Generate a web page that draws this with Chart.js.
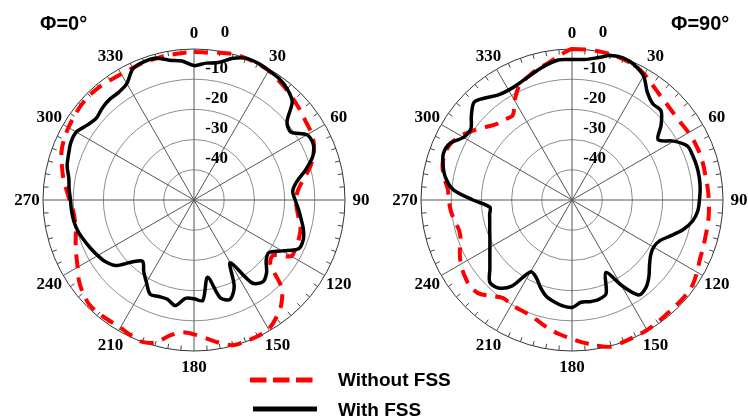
<!DOCTYPE html>
<html>
<head>
<meta charset="utf-8">
<script src="https://cdn.jsdelivr.net/npm/chart.js@4.4.0/dist/chart.umd.min.js"></script>
<style>
  html, body { margin: 0; padding: 0; background: #fff; }
  #wrap { position: relative; width: 748px; height: 416px; }
  #wrap canvas { position: absolute; left: 0; top: 0; }
</style>
</head>
<body>
<div id="wrap">
  <canvas id="phi0" width="748" height="416"></canvas>
  <canvas id="phi90" width="748" height="416"></canvas>
</div>
<script>
// theta in degrees, 5 deg step
const ANGLES = [
  0, 5, 10, 15, 20, 25, 30, 35, 40, 45, 50, 55,
  60, 65, 70, 75, 80, 85, 90, 95, 100, 105, 110, 115,
  120, 125, 130, 135, 140, 145, 150, 155, 160, 165, 170, 175,
  180, 185, 190, 195, 200, 205, 210, 215, 220, 225, 230, 235,
  240, 245, 250, 255, 260, 265, 270, 275, 280, 285, 290, 295,
  300, 305, 310, 315, 320, 325, 330, 335, 340, 345, 350, 355
];
const RADIAL_LABELS = [0, -10, -20, -30, -40];

// gain in dB, phi = 0
const PHI0_WITHOUT = [
  -1, -1, -0.5, 0, 0, -0.2,
  -0.5, -1.5, -2.3, -3.2, -4, -4.8,
  -5.2, -6.2, -8, -10.5, -13.5, -15.5,
  -16.3, -15.8, -14.8, -13.5, -13, -12.8,
  -12.8, -18, -17, -9, -5, -2.5,
  -0.6, -0.2, -0.2, -0.2, -2, -4,
  -5.5, -6, -4.5, -1.2, 0, -0.5,
  -1.2, -1.2, -1, -1, -2, -3.5,
  -5.5, -7, -8.3, -9.5, -10, -9.8,
  -8.8, -7.5, -6, -4.7, -3.3, -2.5,
  -2, -1.6, -1.2, -1, -1.2, -1.6,
  -1.8, -1.8, -1.5, -1.5, -1.3, -1.2
];
const PHI0_WITH = [
  -5.5, -4.5, -3.8, -1.5, 0, 0,
  -0.5, -0.9, -2, -4, -9.8, -10.8,
  -6.8, -6.4, -8.2, -11.8, -15.5, -17.2,
  -16.5, -15.3, -14, -12.5, -11.5, -11.8,
  -16.3, -19.7, -18.8, -16, -14.6, -16.5,
  -26, -18.5, -15, -16.5, -24, -16.6,
  -17.3, -17.3, -14.5, -16, -16, -15.6,
  -18.5, -21, -23.5, -21, -16.2, -14.3,
  -13.2, -12.2, -11.2, -10.2, -9.6, -9.3,
  -9.1, -8.5, -7.9, -6.5, -5.8, -5,
  -5, -6.8, -7.8, -7, -6.5, -6.5,
  -5.5, -2.1, -1.3, -1.4, -3, -3.8
];

// gain in dB, phi = 90
const PHI90_WITHOUT = [
  0, 0, 0, -0.1, -0.4, -0.8,
  -2, -3.5, -4.7, -5.4, -5.8, -5.8,
  -5.4, -5.1, -5, -5, -5.1, -4.9,
  -4.7, -4.5, -4.3, -4.2, -3.8, -3.3,
  -2.2, -1.2, -0.9, -0.9, -0.9, -0.6,
  -0.3, -0.2, 0, 0.3, -1, -2.5,
  -4, -5.3, -6.6, -8.2, -9.4, -9.8,
  -10, -10.3, -8.5, -6.3, -5.8, -6.5,
  -7.5, -9, -10.8, -11.3, -10.5, -9.7,
  -9.2, -8.7, -7, -5.6, -5.2, -5.7,
  -7.5, -10, -12.5, -14.5, -15.2, -15.8,
  -12, -8.5, -6.8, -5.2, -4, -2
];
const PHI90_WITH = [
  -3.5, -3.3, -2.2, -0.5, 0, -0.8,
  -2.6, -6.5, -8.4, -8.3, -11.5, -15.2,
  -11, -7.8, -7.4, -7.2, -7.2, -7.4,
  -7.8, -8.2, -9.5, -12, -15.3, -18,
  -18.8, -18.2, -16.5, -14, -12, -11.6,
  -17.5, -23.5, -17, -15.9, -15.8, -16,
  -14.4, -14.8, -15.8, -17, -19.3, -21.8,
  -22.5, -15.2, -12, -11.5, -14.5, -16.8,
  -18.6, -20, -21, -21.8, -22.3, -22.7,
  -17.2, -10.5, -7.5, -5.8, -4.7, -5.5,
  -8.5, -9.1, -6.5, -4.2, -5.8, -7.5,
  -8, -7.7, -6.8, -5.6, -4.3, -3.4
];

const SERIF = 'bold 17px "Liberation Serif", "Times New Roman", serif';
const SANS = '"Liberation Sans", Arial, sans-serif';

const polarDecor = {
  id: 'polarDecor',
  beforeDatasetsDraw(chart, args, opts) {
    const scale = chart.scales.r;
    const ctx = chart.ctx;
    const R = scale.drawingArea;
    ctx.save();

    // small ticks every 5 deg on the outer ring
    ctx.strokeStyle = '#444';
    ctx.lineWidth = 1;
    ANGLES.forEach((a, i) => {
      if (a % 30 === 0) return;
      const p1 = scale.getPointPosition(i, R);
      const p2 = scale.getPointPosition(i, R - 5);
      ctx.beginPath();
      ctx.moveTo(p1.x, p1.y);
      ctx.lineTo(p2.x, p2.y);
      ctx.stroke();
    });

    // angle labels
    ctx.fillStyle = '#000';
    ctx.font = SERIF;
    ctx.textAlign = 'center';
    ctx.textBaseline = 'middle';
    ANGLES.forEach((a, i) => {
      if (a % 30 !== 0) return;
      const p = scale.getPointPosition(i, R + 16);
      ctx.fillText(String(a), p.x, p.y + 1);
    });

    // dB labels
    RADIAL_LABELS.forEach((v) => {
      const d = scale.getDistanceFromCenterForValue(v);
      if (v === 0) {
        ctx.textAlign = 'center';
        ctx.fillText('0', scale.xCenter + 31, scale.yCenter - R - 16);
      } else {
        ctx.textAlign = 'right';
        ctx.fillText(String(v), scale.xCenter + 34, scale.yCenter - d - 11);
      }
    });

    ctx.font = 'bold 20px ' + SANS;
    ctx.textAlign = 'left';
    ctx.fillText(opts.title, opts.titleX, 24);
    ctx.restore();
  },
  afterDraw(chart, args, opts) {
    if (!opts.legend) return;
    const ctx = chart.ctx;
    ctx.save();
    ctx.lineWidth = 5;
    ctx.strokeStyle = '#ff0000';
    ctx.setLineDash([16.5, 6.5]);
    ctx.beginPath();
    ctx.moveTo(250, 380);
    ctx.lineTo(313, 380);
    ctx.stroke();
    ctx.setLineDash([]);
    ctx.strokeStyle = '#000';
    ctx.beginPath();
    ctx.moveTo(253, 409);
    ctx.lineTo(317, 409);
    ctx.stroke();
    ctx.fillStyle = '#000';
    ctx.font = 'bold 19px ' + SANS;
    ctx.textAlign = 'left';
    ctx.textBaseline = 'alphabetic';
    ctx.fillText('Without FSS', 338, 386);
    ctx.fillText('With FSS', 338, 416);
    ctx.restore();
  }
};

const makePolar = (id, withData, withoutData, padding, decor) => {
  return new Chart(document.getElementById(id), {
    type: 'radar',
    data: {
      labels: ANGLES,
      datasets: [
        {
          label: 'With FSS',
          data: withData,
          borderColor: '#000',
          borderWidth: 3.5,
          fill: false,
        },
        {
          label: 'Without FSS',
          data: withoutData,
          borderColor: '#ff0000',
          borderWidth: 4,
          borderDash: [14, 9],
          fill: false,
        },
      ],
    },
    options: {
      responsive: false,
      animation: false,
      layout: { padding },
      elements: {
        point: { radius: 0, hoverRadius: 0 },
        line: { tension: 0.3 },
      },
      plugins: {
        legend: { display: false },
        tooltip: { enabled: false },
        polarDecor: decor,
      },
      scales: {
        r: {
          min: -50,
          max: 0,
          ticks: { stepSize: 10, display: false },
          grid: {
            circular: true,
            color: (c) => (c.tick && c.tick.value === 0 ? '#333' : '#8c8c8c'),
            lineWidth: 1,
          },
          angleLines: {
            color: '#555',
            lineWidth: (c) => (ANGLES[c.index] % 30 === 0 ? 1 : 0),
          },
          pointLabels: { display: false },
        },
      },
    },
    plugins: [polarDecor],
  });
};

makePolar('phi0', PHI0_WITH, PHI0_WITHOUT,
  { left: 43, right: 403, top: 49, bottom: 65 },
  { title: 'Φ=0°', titleX: 40, legend: true });

makePolar('phi90', PHI90_WITH, PHI90_WITHOUT,
  { left: 421, right: 25, top: 49, bottom: 65 },
  { title: 'Φ=90°', titleX: 671, legend: false });
</script>
</body>
</html>
